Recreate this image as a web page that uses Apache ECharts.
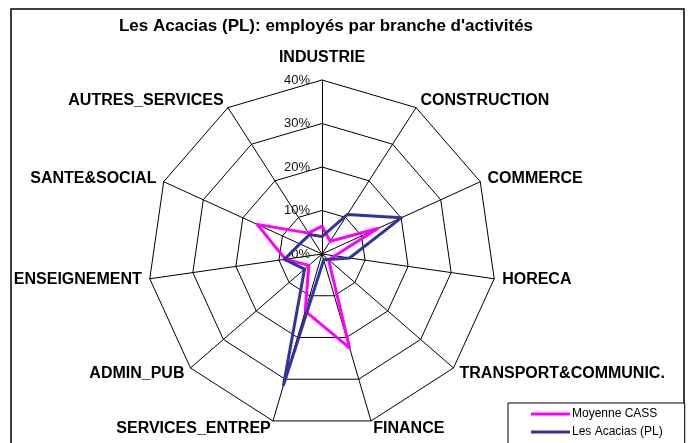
<!DOCTYPE html>
<html>
<head>
<meta charset="utf-8">
<script src="https://cdn.jsdelivr.net/npm/echarts@6/dist/echarts.min.js"></script>
<style>
html,body{margin:0;padding:0;background:#fff;}
#chart{width:691px;height:443px;}
</style>
</head>
<body>
<div id="chart"></div>
<script>
// ---- data (clockwise order from top) ----
const categories = ['INDUSTRIE','CONSTRUCTION','COMMERCE','HORECA','TRANSPORT&COMMUNIC.','FINANCE','SERVICES_ENTREP','ADMIN_PUB','ENSEIGNEMENT','SANTE&SOCIAL','AUTRES_SERVICES'];
const moyenneCASS = [6.4, 3.5, 14.1, 3.0, 2.0, 22.5, 13.7, 4.0, 8.5, 16.4, 5.7];
const lesAcacias = [4.0, 10.8, 20.1, 6.4, 1.9, 1.4, 31.4, 5.3, 8.7, 5.6, 5.3];
const seriesNames = ['Moyenne CASS', 'Les Acacias (PL)'];
const axisMax = 40;
const axisTicks = ['0%','10%','20%','30%','40%'];

// ECharts lays radar indicators counter-clockwise; reorder to draw clockwise
function cw(arr){ return [arr[0]].concat(arr.slice(1).reverse()); }

const chart = echarts.init(document.getElementById('chart'), null, {renderer:'canvas'});
const FONT = 'Liberation Sans, Arial, sans-serif';

const indicator = cw(categories).map((n,i)=>{
  const o = {name:n, min:0, max:axisMax};
  if(i>0) o.axisLabel = {show:false};
  return o;
});

chart.setOption({
  backgroundColor:'#fff',
  animation:false,
  title:{
    text:'Les Acacias (PL): employés par branche d\'activités',
    left:321, top:13, textAlign:'center',
    textStyle:{fontFamily:FONT, fontSize:17, fontWeight:'bold', color:'#000'}
  },
  graphic:[{
    type:'rect', shape:{x:11, y:9, width:673, height:445},
    style:{fill:'none', stroke:'#000', lineWidth:1.5}, silent:true
  }],
  legend:{
    data:seriesNames,
    orient:'vertical',
    left:508, top:403, height:60,
    icon:'rect', itemWidth:39, itemHeight:3, itemGap:6,
    padding:[5,22,10,23],
    borderColor:'#000', borderWidth:1,
    backgroundColor:'#fff',
    textStyle:{fontFamily:FONT, fontSize:12, color:'#000', padding:[0,0,0,-3]}
  },
  radar:{
    center:[322,254],
    radius:174,
    shape:'polygon',
    splitNumber:4,
    startAngle:90,
    indicator:indicator,
    nameGap:8,
    axisName:{fontFamily:FONT, fontSize:16, fontWeight:'bold', color:'#000',
      formatter:function(name){ return name === categories[0] ? '{top|' + name + '}' : name; },
      rich:{top:{fontFamily:FONT, fontSize:16, fontWeight:'bold', color:'#000', padding:[0,0,6,0]}}
    },
    axisLine:{show:true, lineStyle:{color:'#000', width:1}},
    splitLine:{show:true, lineStyle:{color:'#000', width:1}},
    splitArea:{show:false},
    axisTick:{show:false},
    axisLabel:{show:true, fontFamily:FONT, fontSize:13, color:'#111',
      margin:12,
      formatter:function(v){ return axisTicks[Math.round(v/10)] || ''; }}
  },
  series:[{
    type:'radar',
    symbol:'none',
    data:[
      {name:seriesNames[0], value:cw(moyenneCASS), lineStyle:{color:'#FF00FF', width:3}, itemStyle:{color:'#FF00FF'}},
      {name:seriesNames[1], value:cw(lesAcacias), lineStyle:{color:'#333399', width:3}, itemStyle:{color:'#333399'}}
    ]
  }]
});
</script>
</body>
</html>
